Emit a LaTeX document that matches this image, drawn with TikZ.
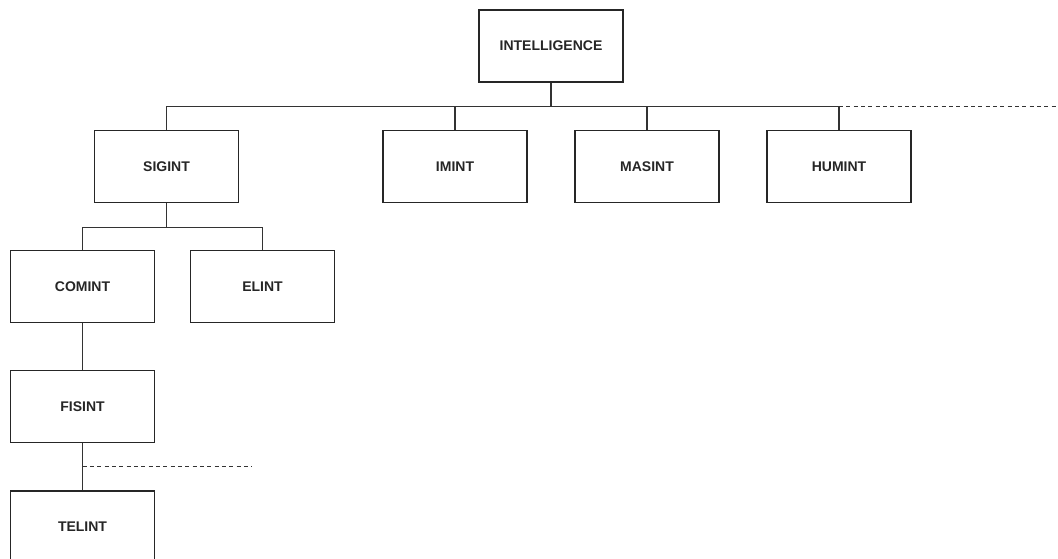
\documentclass[tikz,border=0pt]{standalone}
\usepackage{fontspec}
\setmainfont{Liberation Sans}
\begin{document}
\begin{tikzpicture}[x=0.75pt,y=-0.75pt,
  box/.style={draw=black!85,line width=0.8pt,minimum width=108pt,minimum height=54pt,inner sep=0pt,font=\fontsize{10.5pt}{12pt}\selectfont\bfseries,text=black!85},
  conn/.style={draw=black!80,line width=0.8pt},
  dconn/.style={draw=black!80,line width=0.8pt,dash pattern=on 3pt off 2.5pt}]
\useasboundingbox (0,0) rectangle (1058,559);
\node[box] (intel) at (551,46) {INTELLIGENCE};
\node[box] (sigint) at (166.5,166.7) {SIGINT};
\node[box] (imint) at (455,166.7) {IMINT};
\node[box] (masint) at (647,166.7) {MASINT};
\node[box] (humint) at (839,166.7) {HUMINT};
\node[box] (comint) at (82.5,286.7) {COMINT};
\node[box] (elint) at (262.5,286.7) {ELINT};
\node[box] (fisint) at (82.5,406.7) {FISINT};
\node[box] (telint) at (82.5,527) {TELINT};
\coordinate (bus) at (0,106.7);
\coordinate (busend) at (1058,106.7);
\coordinate (sbus) at (0,227.3);
\coordinate (fisend) at (251.5,466.7);
% top bus
\draw[conn] (intel.south) -- (intel.south |- bus);
\draw[conn] (sigint.north) |- (humint.north |- bus) -- (humint.north);
\draw[conn] (imint.north) -- (imint.north |- bus);
\draw[conn] (masint.north) -- (masint.north |- bus);
\draw[dconn] (humint.north |- bus) -- (busend);
% sigint bus
\draw[conn] (sigint.south) -- (sigint.south |- sbus);
\draw[conn] (comint.north) |- (elint.north |- sbus) -- (elint.north);
% comint chain
\draw[conn] (comint.south) -- (fisint.north);
\draw[conn] (fisint.south) -- (telint.north);
\draw[dconn] (fisint.south |- fisend) -- (fisend);
\end{tikzpicture}
\end{document}
